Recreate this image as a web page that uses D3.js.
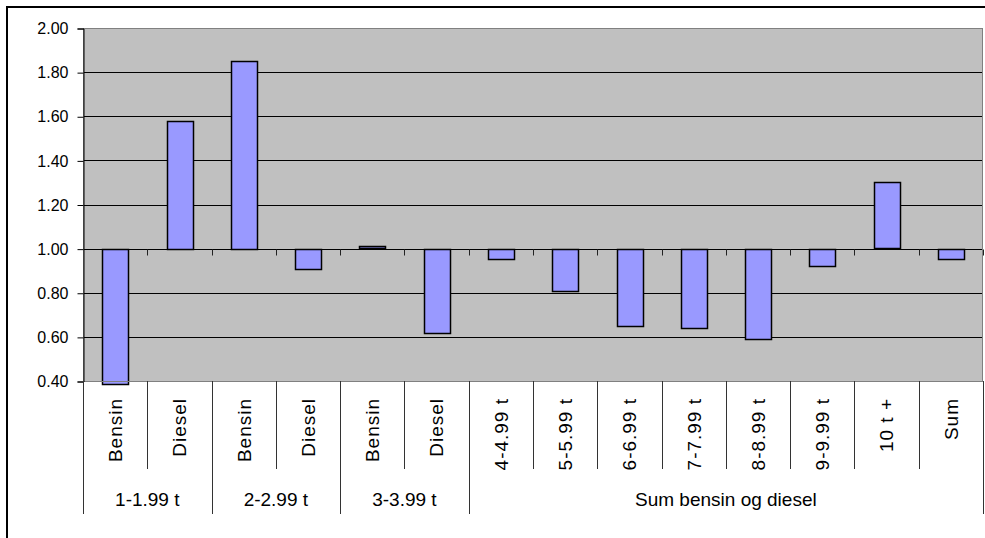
<!DOCTYPE html>
<html>
<head>
<meta charset="utf-8">
<script src="https://cdn.jsdelivr.net/npm/d3@7"></script>
<style>
  html, body { margin: 0; padding: 0; background: #fff; }
  svg { display: block; font-family: "Liberation Sans", Arial, sans-serif; }
</style>
</head>
<body>
<svg id="chart" width="985" height="538"></svg>
<script>
// Ratio per vehicle weight class and fuel type, drawn around a baseline of 1.00
const categories = ["Bensin", "Diesel", "Bensin", "Diesel", "Bensin", "Diesel",
  "4-4.99 t", "5-5.99 t", "6-6.99 t", "7-7.99 t", "8-8.99 t", "9-9.99 t", "10 t +", "Sum"];
const values = [0.39, 1.58, 1.85, 0.91, 1.01, 0.62, 0.955, 0.81, 0.65, 0.64, 0.59, 0.925, 1.30, 0.955];
const groupLabels = ["1-1.99 t", "2-2.99 t", "3-3.99 t", "Sum bensin og diesel"];
const groupSizes = [2, 2, 2, 8];
const yTicks = [0.40, 0.60, 0.80, 1.00, 1.20, 1.40, 1.60, 1.80, 2.00];
const baseline = 1.00;

const svg = d3.select("#chart");
const plot = { left: 83, right: 983, top: 28, bottom: 381 };

const y = d3.scaleLinear().domain([0.40, 2.00]).range([plot.bottom, plot.top]);
const x = d3.scaleBand()
  .domain(d3.range(categories.length))
  .range([plot.left, plot.right])
  .paddingInner(0.6)
  .paddingOuter(0.3);
// category boundaries (used for tick marks and the label table)
const xb = d3.scaleLinear().domain([0, categories.length]).range([plot.left, plot.right]);
const px = v => Math.round(v) + 0.5;

// outer chart frame
svg.append("rect")
  .attr("x", 7).attr("y", 7).attr("width", 990).attr("height", 540)
  .attr("fill", "#fff").attr("stroke", "#000").attr("stroke-width", 2);

// plot area
svg.append("rect")
  .attr("x", plot.left).attr("y", plot.top)
  .attr("width", plot.right - plot.left).attr("height", plot.bottom - plot.top)
  .attr("fill", "#c0c0c0");

// horizontal gridlines
svg.append("g").selectAll("line").data(yTicks).join("line")
  .attr("x1", plot.left).attr("x2", plot.right)
  .attr("y1", d => px(y(d))).attr("y2", d => px(y(d)))
  .attr("stroke", "#000").attr("stroke-width", 1);

// category axis crossing at 1.00, ticks at category boundaries
const yb = px(y(baseline));
svg.append("g").selectAll("line").data(d3.range(categories.length + 1)).join("line")
  .attr("x1", d => px(xb(d))).attr("x2", d => px(xb(d)))
  .attr("y1", yb).attr("y2", yb + 6)
  .attr("stroke", "#222").attr("stroke-width", 1);

// bars from the baseline
svg.append("g").selectAll("rect").data(values).join("rect")
  .attr("x", (d, i) => px(x(i)))
  .attr("width", Math.round(x.bandwidth()))
  .attr("y", d => px(y(Math.max(d, baseline))))
  .attr("height", d => Math.max(1, Math.round(Math.abs(y(d) - y(baseline)))))
  .attr("fill", "#9999ff")
  .attr("stroke", "#000").attr("stroke-width", 1.5);

// plot area border
svg.append("rect")
  .attr("x", plot.left + 0.5).attr("y", plot.top + 0.5)
  .attr("width", plot.right - plot.left - 1).attr("height", plot.bottom - plot.top)
  .attr("fill", "none").attr("stroke", "#808080").attr("stroke-width", 1);

// value axis
const yAxis = d3.axisLeft(y).tickValues(yTicks).tickFormat(d3.format(".2f"))
  .tickSize(6).tickPadding(9);
const ya = svg.append("g").attr("transform", `translate(${plot.left + 0.5},0.5)`).call(yAxis);
ya.attr("font-size", null).attr("font-family", null);
ya.select(".domain").attr("stroke", "#000");
ya.selectAll(".tick line").attr("stroke", "#000");
ya.selectAll(".tick text")
  .style("font-size", "16px").attr("fill", "#000");

// multi-level category labels
const table = svg.append("g");
table.selectAll("line.inner").data(d3.range(categories.length + 1)).join("line")
  .attr("class", "inner")
  .attr("x1", d => px(xb(d))).attr("x2", d => px(xb(d)))
  .attr("y1", plot.bottom).attr("y2", 469)
  .attr("stroke", "#333").attr("stroke-width", 1);

const groupEdges = [0].concat(Array.from(d3.cumsum(groupSizes)));
table.selectAll("line.outer").data(groupEdges).join("line")
  .attr("class", "outer")
  .attr("x1", d => px(xb(d))).attr("x2", d => px(xb(d)))
  .attr("y1", plot.bottom).attr("y2", 514)
  .attr("stroke", "#333").attr("stroke-width", 1);

table.selectAll("text.cat").data(categories).join("text")
  .attr("class", "cat")
  .attr("transform", (d, i) => `translate(${x(i) + x.bandwidth() / 2},398) rotate(-90)`)
  .attr("text-anchor", "end")
  .attr("dy", "0.36em")
  .style("font-size", "19px")
  .attr("letter-spacing", 1)
  .attr("fill", "#000")
  .text(d => d);

table.selectAll("text.group").data(groupLabels).join("text")
  .attr("class", "group")
  .attr("x", (d, i) => (xb(groupEdges[i]) + xb(groupEdges[i + 1])) / 2)
  .attr("y", 506)
  .attr("text-anchor", "middle")
  .style("font-size", "19px")
  .attr("fill", "#000")
  .text(d => d);
</script>
</body>
</html>
